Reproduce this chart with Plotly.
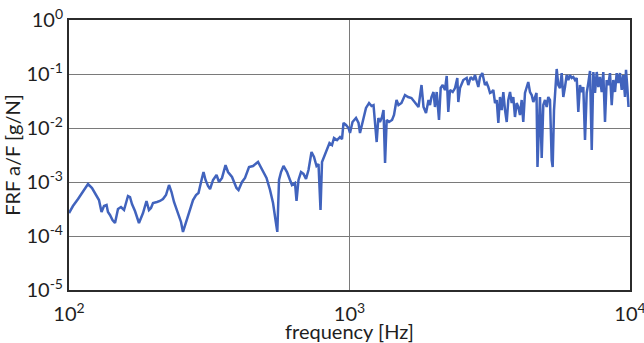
import plotly.graph_objects as go

# Measured accelerance FRF (acceleration / force) versus excitation frequency
freq_hz = [
    100, 103.3, 107.7, 112.2, 116.9, 120.8, 125.9, 127.9, 130.6, 133.3,
    136.1, 137.7, 140.0, 142.9, 145.9, 149.5, 153.2, 157.1, 162.3, 165.0,
    167.7, 171.9, 177.6, 183.6, 188.9, 192.8, 196.0, 199.3, 205.9, 211.0,
    216.3, 221.7, 227.3, 232.0, 236.8, 240.7, 244.7, 250.8, 254.9, 259.2,
    263.5, 270.0, 276.8, 283.7, 289.5, 296.8, 301.7, 306.7, 313.0, 318.3,
    326.2, 335.7, 342.7, 351.2, 361.4, 368.9, 381.2, 395.5, 402.1, 413.8,
    424.1, 438.3, 452.9, 472.0, 487.7, 506.0, 520.8, 533.8, 544.8, 552.9,
    560.7, 570.0, 581.8, 598.7, 613.6, 623.7, 639.3, 647.3, 658.0, 671.6,
    685.5, 699.7, 714.2, 732.0, 747.2, 762.8, 775.4, 788.2, 798.0, 811.2,
    831.4, 848.6, 866.2, 880.5, 902.5, 925.0, 940.4, 952.0, 971.6, 991.8,
    1004, 1025, 1055, 1077, 1090, 1113, 1145, 1174, 1198, 1218,
    1233, 1250, 1267, 1284, 1306, 1322, 1339, 1357, 1383, 1418,
    1441, 1471, 1495, 1532, 1577, 1617, 1663, 1712, 1762, 1806,
    1836, 1874, 1913, 1936, 1960, 1993, 2017, 2046, 2085, 2114,
    2149, 2190, 2221, 2250, 2282, 2333, 2378, 2423, 2443, 2477,
    2545, 2617, 2652, 2705, 2763, 2802, 2841, 2879, 2919, 2975,
    3041, 3084, 3125, 3169, 3214, 3256, 3302, 3348, 3393, 3440,
    3489, 3535, 3585, 3635, 3683, 3735, 3787, 3837, 3890, 3945,
    3997, 4053, 4110, 4164, 4223, 4282, 4338, 4400, 4462, 4521,
    4584, 4642, 4679, 4738, 4776, 4844, 4908, 4977, 5047, 5113,
    5185, 5258, 5301, 5359, 5402, 5479, 5551, 5629, 5708, 5784,
    5865, 5947, 6026, 6111, 6197, 6279, 6367, 6457, 6542, 6633,
    6727, 6816, 6912, 7008, 7101, 7202, 7304, 7401, 7504, 7610,
    7711, 7816, 7927, 8032, 8145, 8258, 8367, 8486, 8606, 8720,
    8842, 8966, 9085, 9211, 9342, 9465, 9599, 9677, 9782, 9879,
]

frf_g_per_n = [
    2.66e-4, 3.59e-4, 4.84e-4, 6.81e-4, 9.18e-4, 7.74e-4, 5.27e-4, 4.64e-4, 2.78e-4, 3.59e-4,
    3.75e-4, 2.78e-4, 2.45e-4, 1.98e-4, 1.74e-4, 3.16e-4, 3.44e-4, 3.03e-4, 5.50e-4, 5.27e-4,
    3.91e-4, 2.90e-4, 1.74e-4, 2.66e-4, 4.45e-4, 3.03e-4, 3.30e-4, 4.08e-4, 4.26e-4, 4.45e-4,
    4.84e-4, 5.74e-4, 8.80e-4, 6.53e-4, 4.26e-4, 3.30e-4, 2.55e-4, 1.82e-4, 1.19e-4, 1.60e-4,
    1.98e-4, 3.30e-4, 4.64e-4, 5.74e-4, 6.25e-4, 1.09e-3, 1.53e-3, 1.09e-3, 8.43e-4, 7.42e-4,
    1.09e-3, 1.35e-3, 1.00e-3, 1.19e-3, 2.06e-3, 1.53e-3, 1.24e-3, 7.74e-4, 7.11e-4, 1.00e-3,
    1.19e-3, 1.90e-3, 1.98e-3, 2.35e-3, 1.74e-3, 1.19e-3, 7.11e-4, 4.08e-4, 1.98e-4, 1.19e-4,
    1.09e-3, 1.53e-3, 1.98e-3, 1.53e-3, 1.09e-3, 8.80e-4, 9.58e-4, 4.45e-4, 1.09e-3, 1.53e-3,
    1.41e-3, 1.14e-3, 1.67e-3, 3.59e-3, 2.90e-3, 1.98e-3, 2.15e-3, 3.03e-4, 2.35e-3, 2.90e-3,
    4.08e-3, 5.27e-3, 4.84e-3, 6.53e-3, 5.99e-3, 6.81e-3, 6.25e-3, 1.24e-2, 1.14e-2, 1.00e-2,
    8.08e-3, 1.29e-2, 1.53e-2, 1.24e-2, 8.08e-3, 1.29e-2, 2.35e-2, 2.90e-2, 2.55e-2, 2.66e-2,
    1.41e-2, 5.50e-3, 1.53e-2, 1.29e-2, 1.60e-2, 2.15e-2, 2.25e-3, 1.41e-2, 1.29e-2, 1.41e-2,
    1.74e-2, 3.30e-2, 2.66e-2, 2.90e-2, 4.08e-2, 3.75e-2, 3.59e-2, 2.90e-2, 2.45e-2, 6.25e-2,
    2.45e-2, 1.90e-2, 3.30e-2, 2.66e-2, 3.75e-2, 4.64e-2, 2.45e-2, 4.64e-2, 1.41e-2, 5.50e-2,
    6.25e-2, 5.06e-2, 9.18e-2, 1.98e-2, 5.06e-2, 4.64e-2, 5.50e-2, 8.43e-2, 3.03e-2, 5.50e-2,
    7.74e-2, 8.43e-2, 6.25e-2, 8.80e-2, 7.74e-2, 9.58e-2, 7.74e-2, 5.74e-2, 8.80e-2, 1.04e-1,
    6.25e-2, 6.81e-2, 5.74e-2, 4.45e-2, 4.64e-2, 5.06e-2, 2.90e-2, 3.30e-2, 1.24e-2, 3.75e-2,
    2.15e-2, 4.64e-2, 2.15e-2, 1.29e-2, 3.30e-2, 4.64e-2, 2.90e-2, 3.75e-2, 1.60e-2, 2.90e-2,
    2.45e-2, 1.74e-2, 3.30e-2, 1.29e-2, 4.45e-2, 5.74e-2, 7.11e-2, 4.64e-2, 4.08e-2, 3.03e-2,
    3.75e-2, 4.45e-2, 1.90e-3, 1.41e-2, 3.75e-2, 2.78e-3, 2.66e-2, 3.30e-2, 2.45e-2, 3.75e-2,
    3.30e-2, 2.55e-3, 1.90e-3, 2.15e-2, 4.45e-2, 1.24e-1, 6.25e-2, 5.50e-2, 1.04e-1, 3.75e-2,
    5.74e-2, 9.58e-2, 7.74e-2, 9.58e-2, 8.43e-2, 8.80e-2, 7.74e-2, 8.43e-2, 1.98e-2, 6.25e-2,
    4.64e-2, 5.74e-2, 5.99e-3, 4.45e-2, 6.81e-2, 1.14e-1, 3.91e-3, 1.09e-1, 4.45e-2, 1.09e-1,
    5.74e-2, 8.80e-2, 4.64e-2, 1.09e-1, 1.29e-2, 7.74e-2, 6.25e-2, 1.04e-1, 2.66e-2, 7.74e-2,
    4.64e-2, 1.04e-1, 6.81e-2, 1.04e-1, 5.06e-2, 9.58e-2, 3.75e-2, 1.19e-1, 5.74e-2, 2.45e-2,
]

# Decade ticks
x_tick_vals = [1e2, 1e3, 1e4]
x_tick_text = ["10<sup>2</sup>", "10<sup>3</sup>", "10<sup>4</sup>"]
y_tick_vals = [1e-5, 1e-4, 1e-3, 1e-2, 1e-1, 1e0]
y_tick_text = ["10<sup>-5</sup>", "10<sup>-4</sup>", "10<sup>-3</sup>",
               "10<sup>-2</sup>", "10<sup>-1</sup>", "10<sup>0</sup>"]

FONT = "Lato, 'Open Sans', sans-serif"
TEXT = "#1e1e1e"

fig = go.Figure(
    go.Scatter(
        x=freq_hz,
        y=frf_g_per_n,
        mode="lines",
        line=dict(color="#4163bd", width=2.5),
        hoverinfo="skip",
        showlegend=False,
    )
)

axis_common = dict(
    showline=True,
    mirror=True,
    linecolor="#2b2b2b",
    linewidth=2,
    showgrid=True,
    gridcolor="#7a7a7a",
    gridwidth=1,
    zeroline=False,
    ticks="",
    automargin=False,
    ticklabeloverflow="allow",
    tickfont=dict(family=FONT, size=20, color=TEXT),
    title_font=dict(family=FONT, size=20, color=TEXT),
)

fig.update_xaxes(
    type="log",
    range=[2, 4],
    tickmode="array",
    tickvals=x_tick_vals,
    ticktext=x_tick_text,
    ticklabelstandoff=5,
    title_text="frequency [Hz]",
    title_standoff=10,
    **axis_common,
)
fig.update_yaxes(
    type="log",
    range=[-5, 0],
    tickmode="array",
    tickvals=y_tick_vals,
    ticktext=y_tick_text,
    title_text="FRF a/F [g/N]",
    title_standoff=4,
    **axis_common,
)

fig.update_layout(
    width=644,
    height=343,
    margin=dict(l=69, r=14, t=20, b=53),
    paper_bgcolor="white",
    plot_bgcolor="white",
    font=dict(family=FONT, color=TEXT),
)

fig.write_html("out.html")
